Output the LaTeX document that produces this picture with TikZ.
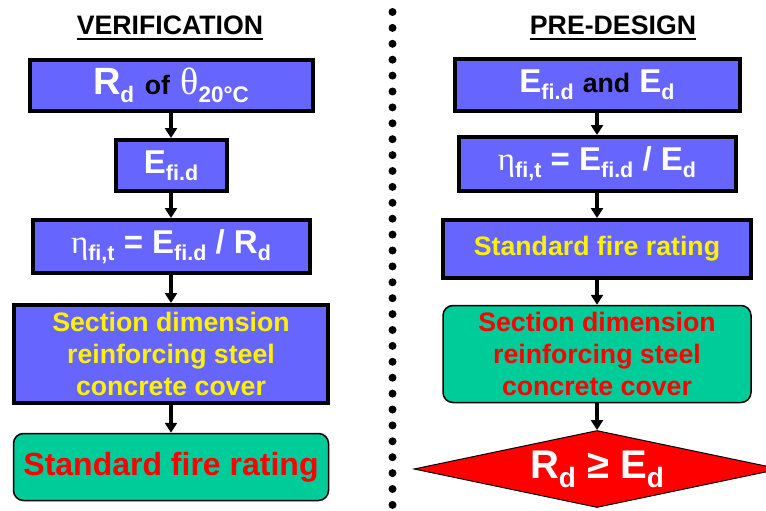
\documentclass[tikz,border=0pt]{standalone}
\usepackage{fontspec}
\setmainfont{Liberation Sans}
\newfontfamily\grk{Liberation Serif}
\usetikzlibrary{arrows.meta}
\usetikzlibrary{shapes.geometric}

\definecolor{boxblue}{HTML}{6666FF}
\definecolor{boxgreen}{HTML}{00CC99}
\newcommand\lo[2][21.5]{\raisebox{-.22em}{\fontsize{#1}{#1}\selectfont #2}}
\newcommand\gr[2][33]{{\grk\mdseries\fontsize{#1}{#1}\selectfont #2}}

\tikzset{
  blubox/.style={draw=black, line width=4pt, fill=boxblue, text=white,
    inner sep=0pt, align=center, font=\bfseries\fontsize{33}{33}\selectfont},
  grnbox/.style={draw=black, line width=1.5pt, fill=boxgreen, text=red,
    rounded corners=10pt, inner sep=0pt, align=center,
    font=\bfseries\fontsize{26.7}{32}\selectfont},
  yeltext/.style={text=yellow, font=\bfseries\fontsize{26.7}{32}\selectfont},
  flow/.style={line width=4pt, -{Triangle[width=12pt,length=10pt]}},
  title/.style={font=\bfseries\fontsize{26.7}{26.7}\selectfont, inner xsep=0pt,
    inner ysep=4pt, outer sep=0pt, anchor=base},
}

\begin{document}
\begin{tikzpicture}[x=1pt,y=-1pt]
\path[use as bounding box] (0,0) rectangle (766,511);
\clip (0,0) rectangle (766,511);

% titles
\node[title] (tv) at (170,35) {VERIFICATION};
\node[title] (tp) at (613,35) {PRE-DESIGN};
\draw[line width=2pt] (tv.south west) -- (tv.south east);
\draw[line width=2pt] (tp.south west) -- (tp.south east);

% dotted separator
\foreach \i in {0,...,31}{\fill (392.5,12+15.9*\i) circle (4pt);}

% verification
\node[blubox, minimum width=283pt, minimum height=51pt, font=\bfseries\fontsize{38}{38}\selectfont]
  (V1) at (171,85.5)
  {R\lo[22.5]{d} {\color{black}\fontsize{26.7}{26.7}\selectfont of} \gr[38]{θ}\lo[22.5]{20°C}};
\node[blubox, minimum width=111pt, minimum height=51pt] (V2) at (171,165.5) {E\lo{fi.d}};
\node[blubox, minimum width=277pt, minimum height=53pt] (V3) at (171,246.5)
  {\gr{η}\lo{fi,t} = E\lo{fi.d} / R\lo{d}};
\node[blubox, yeltext, minimum width=314pt, minimum height=98pt] (V4) at (171,354)
  {Section dimension\\reinforcing steel\\concrete cover};
\node[grnbox, minimum width=315pt, minimum height=67pt,
  font=\bfseries\fontsize{32}{32}\selectfont] (V5) at (171,467) {Standard fire rating};

\draw[flow] (V1) -- (V2);
\draw[flow] (V2) -- (V3);
\draw[flow] (V3) -- (V4);
\draw[flow] (V4) -- (V5);

% pre-design
\node[blubox, minimum width=285pt, minimum height=52pt] (P1) at (597,85)
  {E\lo{fi.d} {\color{black}\fontsize{26.7}{26.7}\selectfont and} E\lo{d}};
\node[blubox, minimum width=277pt, minimum height=54pt] (P2) at (597,164)
  {\gr{η}\lo{fi,t} = E\lo{fi.d} / E\lo{d}};
\node[blubox, yeltext, minimum width=308pt, minimum height=58pt] (P3) at (597,249)
  {Standard fire rating};
\node[grnbox, minimum width=308pt, minimum height=97pt] (P4) at (597,354)
  {Section dimension\\reinforcing steel\\concrete cover};
\node[diamond, draw=black, line width=1pt, fill=red, text=white, aspect=4.75,
  inner sep=0pt, minimum width=366pt, minimum height=77pt,
  font=\bfseries\fontsize{40}{40}\selectfont] (P5) at (597,469)
  {R\lo[28]{d} ≥ E\lo[28]{d}};

\draw[flow] (P1) -- (P2);
\draw[flow] (P2) -- (P3);
\draw[flow] (P3) -- (P4);
\draw[flow] (P4) -- (P5);
\end{tikzpicture}
\end{document}
